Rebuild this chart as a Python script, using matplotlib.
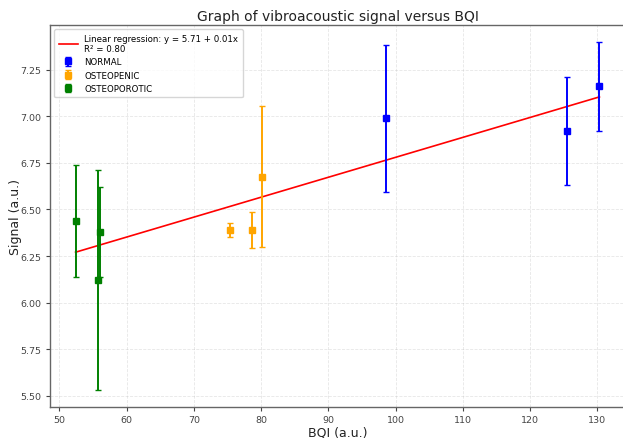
import numpy as np
import matplotlib
matplotlib.use("Agg")
import matplotlib.pyplot as plt

# Values
normal_bqi = [98.6, 125.5, 130.3]
normal_sig = [6.99, 6.92, 7.16]
normal_err = [0.395, 0.29, 0.237]

osteopenic_bqi = [75.4, 78.7, 80.1]
osteopenic_sig = [6.39, 6.39, 6.676]
osteopenic_err = [0.036, 0.095, 0.38]

osteoporotic_bqi = [52.4, 55.7, 56.1]
osteoporotic_sig = [6.437, 6.123, 6.378]
osteoporotic_err = [0.30, 0.59, 0.24]

# regression as drawn (label rounds the values)
intercept = 5.71
slope = 0.0107
r2 = 0.80

fig = plt.figure(figsize=(6.23, 4.39), dpi=100)
ax = fig.add_axes([50 / 623, 31 / 439, 575 / 623, 382 / 439])

all_bqi = np.array(normal_bqi + osteopenic_bqi + osteoporotic_bqi)
xs = np.array([all_bqi.min(), all_bqi.max()])
ax.plot(xs, intercept + slope * xs, color="red", linewidth=1.2,
        label=f"Linear regression: y = {intercept:.2f} + {slope:.2f}x\nR² = {r2:.2f}")

for x, y, e, c, lab in [
    (normal_bqi, normal_sig, normal_err, "blue", "NORMAL"),
    (osteopenic_bqi, osteopenic_sig, osteopenic_err, "orange", "OSTEOPENIC"),
    (osteoporotic_bqi, osteoporotic_sig, osteoporotic_err, "green", "OSTEOPOROTIC"),
]:
    ax.errorbar(x, y, yerr=e, fmt="s", color=c, markersize=4.5, capsize=2.5,
                elinewidth=1.4, capthick=1, label=lab)

ax.set_xlim(48.6, 134.1)
ax.set_ylim(5.44, 7.49)
ax.set_xticks(np.arange(50, 131, 10))
ax.set_yticks(np.arange(5.5, 7.26, 0.25))
ax.yaxis.set_major_formatter(matplotlib.ticker.FormatStrFormatter("%.2f"))
ax.tick_params(labelsize=6.8, colors="#444444", length=3, pad=3)
for s in ax.spines.values():
    s.set_color("#666666")
    s.set_linewidth(1.0)
ax.grid(True, linestyle="--", linewidth=0.6, alpha=0.3)

ax.set_title("Graph of vibroacoustic signal versus BQI", fontsize=10, color="#222222", pad=3.5)
ax.set_xlabel("BQI (a.u.)", fontsize=9, color="#222222", labelpad=0.5)
ax.set_ylabel("Signal (a.u.)", fontsize=9, color="#222222", labelpad=-1)
ax.legend(loc="upper left", fontsize=6.2, handlelength=2.2, borderpad=0.5,
          labelspacing=0.5, bbox_to_anchor=(0.0, 1.0))

fig.savefig("out.png", dpi=100)
